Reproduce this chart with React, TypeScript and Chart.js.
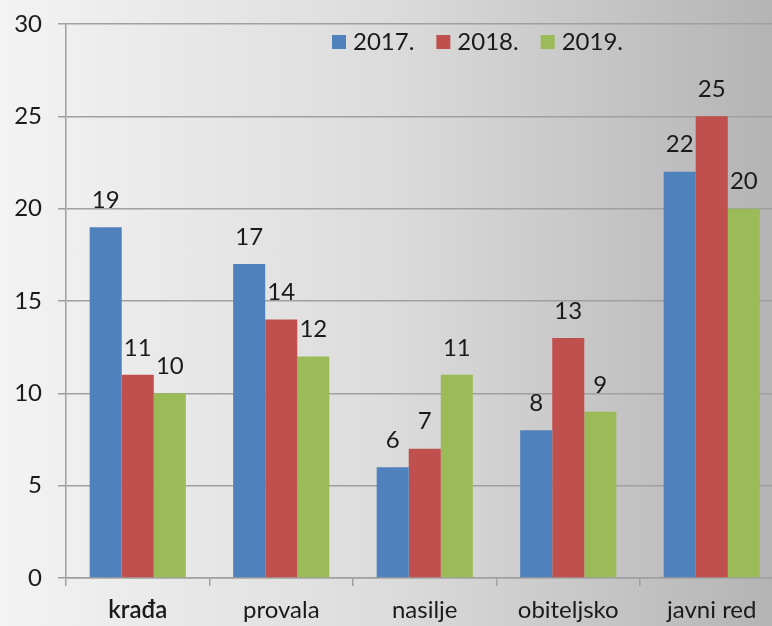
import React, { useEffect, useRef } from "react";
import { Chart, registerables } from "chart.js";

Chart.register(...registerables);

const categories = ["krađa", "provala", "nasilje", "obiteljsko", "javni red"];
const seriesLabels = ["2017.", "2018.", "2019."];
const values2017 = [19, 17, 6, 8, 22];
const values2018 = [11, 14, 7, 13, 25];
const values2019 = [10, 12, 11, 9, 20];
const seriesColors = ["#4F81BD", "#C0504D", "#9BBB59"];
const yTicks = [0, 5, 10, 15, 20, 25, 30];

const FONT = "Lato, 'Open Sans', sans-serif";
const FS = 24;

const valueLabelPlugin = {
  id: "valueLabels",
  afterDatasetsDraw(chart: any) {
    const ctx = chart.ctx;
    ctx.save();
    ctx.font = `${FS}px ${FONT}`;
    ctx.fillStyle = "#1a1a1a";
    ctx.textAlign = "center";
    ctx.textBaseline = "middle";
    chart.data.datasets.forEach((ds: any, i: number) => {
      const meta = chart.getDatasetMeta(i);
      meta.data.forEach((el: any, j: number) => {
        ctx.fillText(String(ds.data[j]), el.x, el.y - 27);
      });
    });
    ctx.restore();
  },
};

const customLegendPlugin = {
  id: "customLegend",
  afterDraw(chart: any) {
    const ctx = chart.ctx;
    ctx.save();
    ctx.font = `${FS}px ${FONT}`;
    ctx.textBaseline = "middle";
    ctx.textAlign = "left";
    let x = 332;
    const y = 42;
    chart.data.datasets.forEach((ds: any) => {
      ctx.fillStyle = ds.backgroundColor;
      ctx.fillRect(x, y - 7, 14, 14);
      ctx.fillStyle = "#1a1a1a";
      ctx.fillText(ds.label, x + 21, y);
      x += 21 + ctx.measureText(ds.label).width + 22;
    });
    ctx.restore();
  },
};

export default function App() {
  const ref = useRef<HTMLCanvasElement>(null);
  useEffect(() => {
    if (!ref.current) return;
    const chart = new Chart(ref.current, {
      type: "bar",
      data: {
        labels: categories,
        datasets: [values2017, values2018, values2019].map((d, i) => ({
          label: seriesLabels[i],
          data: d,
          backgroundColor: seriesColors[i],
          borderWidth: 0,
          categoryPercentage: 0.67,
          barPercentage: 1,
        })),
      },
      options: {
        responsive: false,
        animation: false,
        layout: { padding: { top: 24, right: 16.5, bottom: 0, left: 0 } },
        plugins: {
          legend: { display: false },
          tooltip: { enabled: false },
        },
        scales: {
          x: {
            offset: true,
            grid: {
              display: true,
              offset: true,
              drawOnChartArea: false,
              drawTicks: true,
              tickLength: 8,
              color: "#a0a0a0",
              lineWidth: 1.5,
            },
            border: { display: true, color: "#a0a0a0", width: 1.5 },
            ticks: {
              color: "#1a1a1a",
              padding: 10,
              font: (c: any) =>
                c.index === 0
                  ? { family: FONT, size: FS, weight: "600" }
                  : { family: FONT, size: FS },
            },
            afterFit(scale: any) {
              scale.height = 48;
              scale.paddingLeft = 0;
              scale.paddingRight = 0;
            },
          },
          y: {
            min: 0,
            max: 30,
            afterBuildTicks(scale: any) {
              scale.ticks = yTicks.map((v) => ({ value: v }));
            },
            grid: {
              color: "#a0a0a0",
              lineWidth: 1.5,
              tickLength: 8,
            },
            border: { display: true, color: "#a0a0a0", width: 1.5 },
            ticks: {
              color: "#1a1a1a",
              padding: 16,
              font: { family: FONT, size: FS },
            },
            afterFit(scale: any) {
              scale.width = 66;
              scale.paddingTop = 0;
              scale.paddingBottom = 0;
            },
          },
        },
      },
      plugins: [valueLabelPlugin, customLegendPlugin],
    });
    return () => chart.destroy();
  }, []);

  return (
    <div
      style={{
        position: "fixed",
        left: 0,
        top: 0,
        width: 772,
        height: 626,
        overflow: "hidden",
        background: "linear-gradient(to right, #f3f3f3 0%, #dcdcdc 50%, #b4b4b4 100%)",
      }}
    >
      <canvas ref={ref} width={800} height={626} style={{ width: 800, height: 626, display: "block" }} />
    </div>
  );
}
